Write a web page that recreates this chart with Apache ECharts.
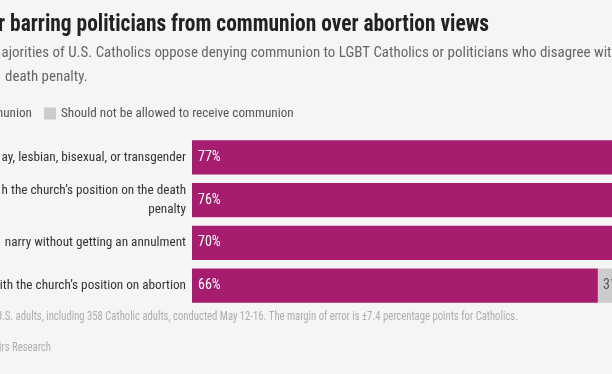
<!DOCTYPE html>
<html>
<head>
<meta charset="utf-8">
<script src="https://cdn.jsdelivr.net/npm/echarts@6/dist/echarts.min.js"></script>
<style>
html,body{margin:0;padding:0;background:#f5f5f5;}
#c{width:612px;height:374px;}
</style>
</head>
<body>
<div id="c"></div>
<script>
const categories = [
  "ay, lesbian, bisexual, or transgender",
  "h the church\u2019s position on the death\npenalty",
  "narry without getting an annulment",
  "ith the church\u2019s position on abortion"
];
const allowed = [77, 76, 70, 66];
const notAllowed = [21, 21, 28, 31];
const seriesNames = ["Should be allowed to receive communion", "Should not be allowed to receive communion"];
const titleText = "r barring politicians from communion over abortion views";
const subtitleLines = [
  "ajorities of U.S. Catholics oppose denying communion to LGBT Catholics or politicians who disagree with",
  "death penalty."
];
const noteLines = [
  "U.S. adults, including 358 Catholic adults, conducted May 12-16. The margin of error is \u00b17.4 percentage points for Catholics.",
  "irs Research"
];

const FONT = "'Roboto Condensed', sans-serif";
const PURPLE = "#a61d6f";
const GREY = "#cccccc";

const ctx = document.createElement('canvas').getContext('2d');
function textWidth(t, size, weight) {
  ctx.font = (weight || 'normal') + ' ' + size + 'px ' + FONT;
  return ctx.measureText(t).width;
}
function fit(t, target, weight) {
  return Math.round(100 * target / textWidth(t, 100, weight) * 10) / 10;
}
function sx(t, size, target, weight) { return target / textWidth(t, size, weight); }

const legendFont = fit(seriesNames[1], 233);
const catFont = fit(categories[0], 185);
const legendLeft = 32 - textWidth(seriesNames[0], legendFont) - 5 - 12;

function gtext(text, x, y, size, weight, color, scaleX) {
  return {type: 'text', x: x, y: y, scaleX: scaleX, silent: true,
    style: {text: text, font: weight + ' ' + size + 'px ' + FONT, fill: color, verticalAlign: 'middle', align: 'left'}};
}
const T = 23, S = 14.5, N = 12.5;
const subScale = sx(subtitleLines[0].slice(0, -1), S, 610, 'normal');
const noteScale = sx(noteLines[0], N, 522, 'normal');
const graphics = [
  gtext(titleText, -2, 25, T, 'bold', '#222', sx(titleText, T, 491, 'bold')),
  gtext(subtitleLines[0], 1.5, 53.5, S, 'normal', '#666', subScale),
  gtext(subtitleLines[1], 5, 77, S, 'normal', '#666', subScale),
  gtext(noteLines[0], -4, 316.5, N, 'normal', '#adadad', noteScale),
  gtext(noteLines[1], -1, 348, N, 'normal', '#adadad', noteScale)
];

const chart = echarts.init(document.getElementById('c'));
chart.setOption({
  backgroundColor: '#f5f5f5',
  animation: false,
  graphic: graphics,
  legend: {
    left: legendLeft, top: 107, itemWidth: 12, itemHeight: 12, itemGap: 12,
    icon: 'rect', padding: 0,
    textStyle: {fontFamily: FONT, fontSize: legendFont, color: '#555'},
    data: seriesNames
  },
  grid: {left: 192, top: 136, width: 615, height: 171, outerBoundsMode: 'none', containLabel: false},
  xAxis: {type: 'value', min: 0, max: 100, show: false},
  yAxis: {
    type: 'category', data: categories, inverse: true,
    axisLine: {show: false}, axisTick: {show: false},
    axisLabel: {margin: 6, fontFamily: FONT, fontSize: catFont, color: '#333', lineHeight: 19, align: 'right'}
  },
  series: [
    {
      name: seriesNames[0], type: 'bar', stack: 'a', data: allowed, barCategoryGap: '20%',
      itemStyle: {color: PURPLE},
      label: {show: true, position: 'insideLeft', distance: 6, formatter: '{c}%', color: '#fff', fontFamily: FONT, fontSize: 14}
    },
    {
      name: seriesNames[1], type: 'bar', stack: 'a', data: notAllowed,
      itemStyle: {color: GREY},
      label: {show: true, position: 'insideLeft', distance: 5, formatter: '{c}%', color: '#555', fontFamily: FONT, fontSize: 14}
    }
  ]
});
</script>
</body>
</html>
